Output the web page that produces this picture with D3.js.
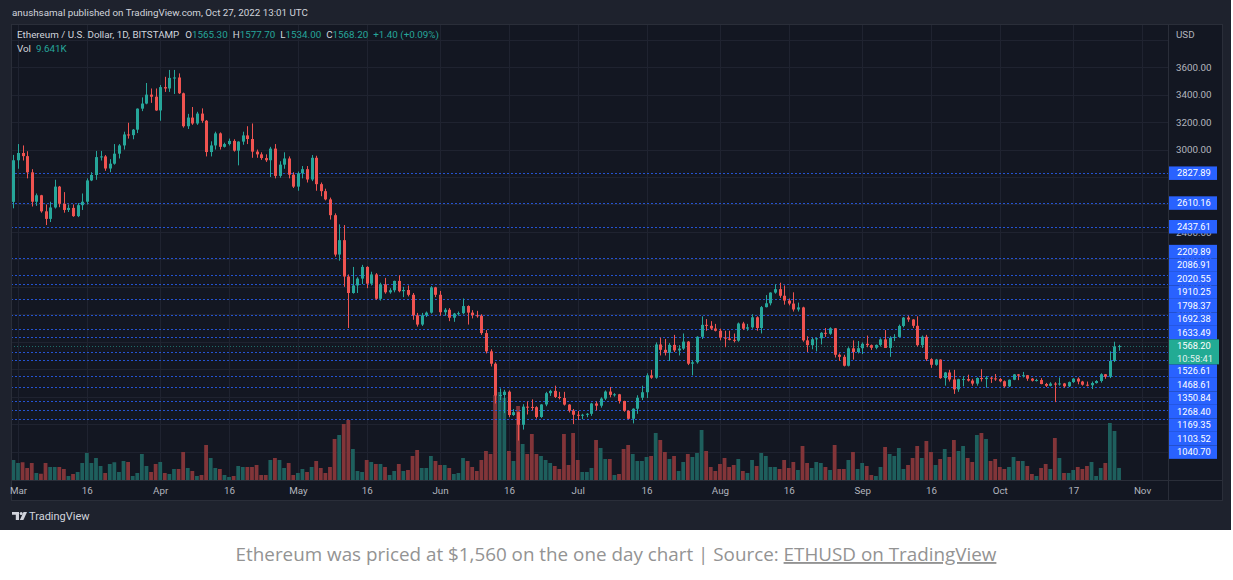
<!DOCTYPE html>
<html>
<head>
<meta charset="utf-8">
<script src="https://cdn.jsdelivr.net/npm/d3@7"></script>
<style>
  body { margin: 0; background: #fff; }
  svg { display: block; }
  text { font-family: Roboto, "Liberation Sans", sans-serif; }
</style>
</head>
<body>
<svg id="chart" width="1233" height="580"></svg>
<script>
// daily candles ETH/USD Bitstamp, Feb 28 -> Oct 27 2022, [open, high, low, close]
var firstDay = "2022-02-28";
var ohlc = [
  [2619,2961,2572,2922],
  // Mar
  [2922,3040,2860,2975],[2975,3030,2920,2952],[2952,2988,2790,2834],[2834,2857,2585,2620],[2620,2680,2590,2667],
  [2667,2670,2540,2550],[2550,2600,2450,2495],[2495,2620,2472,2578],[2578,2780,2570,2730],[2730,2735,2580,2605],
  [2605,2690,2540,2560],[2560,2600,2545,2575],[2575,2600,2510,2515],[2515,2610,2508,2595],[2595,2680,2560,2620],
  [2620,2790,2600,2775],[2775,2835,2770,2815],[2815,2990,2780,2945],[2945,2990,2920,2950],[2950,2960,2845,2862],
  [2862,2930,2835,2897],[2897,3040,2890,2970],[2970,3040,2935,3030],[3030,3130,3000,3110],[3110,3195,3080,3105],
  [3105,3150,3075,3145],[3145,3300,3120,3298],[3298,3380,3280,3335],[3335,3485,3330,3400],[3400,3445,3340,3385],
  [3385,3445,3282,3285],
  // Apr
  [3285,3470,3210,3455],[3455,3530,3420,3445],[3445,3580,3420,3522],[3522,3580,3405,3525],[3525,3555,3405,3410],
  [3410,3415,3160,3170],[3170,3260,3150,3233],[3233,3310,3180,3190],[3190,3275,3180,3262],[3262,3300,3195,3210],
  [3210,3215,2950,2982],[2982,3060,2950,3030],[3030,3130,3000,3118],[3118,3125,3000,3020],[3020,3050,3015,3040],
  [3040,3080,3030,3063],[3063,3075,2985,2992],[2992,3060,2885,3058],[3058,3130,3035,3103],[3103,3170,3040,3077],
  [3077,3190,2940,2985],[2985,3000,2940,2965],[2965,2980,2925,2938],[2938,2965,2910,2922],[2922,3020,2800,3007],
  [3007,3040,2790,2808],[2808,2915,2795,2890],[2890,2980,2860,2935],[2935,2950,2790,2817],[2817,2835,2720,2730],
  // May
  [2730,2840,2700,2827],[2827,2880,2790,2857],[2857,2880,2760,2782],[2782,2960,2770,2940],[2940,2955,2700,2748],
  [2748,2760,2660,2697],[2697,2715,2630,2637],[2637,2650,2490,2522],[2522,2535,2220,2235],[2235,2455,2190,2340],
  [2340,2450,2000,2075],[2075,2090,1700,1955],[1955,2145,1950,2010],[2010,2070,1955,2060],[2060,2160,2020,2145],
  [2145,2150,1990,2023],[2023,2110,2010,2090],[2090,2100,1905,1913],[1913,2030,1900,2018],[2018,2065,1950,1960],
  [1960,1990,1950,1975],[1975,2045,1960,2043],[2043,2085,1960,1968],[1968,2000,1925,1977],[1977,2010,1930,1942],
  [1942,1955,1760,1792],[1792,1810,1710,1725],[1725,1810,1715,1792],[1792,1820,1780,1812],[1812,2005,1805,1996],
  [1996,2000,1925,1942],
  // Jun
  [1942,1970,1790,1815],[1815,1845,1790,1833],[1833,1845,1750,1775],[1775,1810,1745,1805],[1805,1820,1790,1808],
  [1808,1915,1800,1860],[1860,1865,1725,1812],[1812,1830,1770,1793],[1793,1825,1775,1789],[1789,1800,1650,1663],
  [1663,1685,1515,1530],[1530,1545,1420,1440],[1440,1450,1150,1208],[1208,1260,1175,1212],[1212,1250,1080,1236],
  [1236,1245,1050,1066],[1066,1110,1060,1087],[1087,1090,880,995],[995,1145,960,1127],[1127,1165,1070,1125],
  [1125,1180,1100,1123],[1123,1130,1040,1052],[1052,1145,1045,1143],[1143,1235,1130,1225],[1225,1250,1205,1242],
  [1242,1280,1190,1198],[1198,1235,1180,1190],[1190,1235,1135,1142],[1142,1145,1085,1098],[1098,1110,1000,1068],
  // Jul
  [1068,1095,1030,1062],[1062,1075,1035,1068],[1068,1080,1050,1075],[1075,1155,1060,1150],[1150,1165,1100,1134],
  [1134,1195,1120,1186],[1186,1245,1175,1237],[1237,1270,1195,1213],[1213,1225,1200,1217],[1217,1220,1150,1168],
  [1168,1170,1090,1097],[1097,1100,1035,1039],[1039,1115,1005,1112],[1112,1210,1075,1192],[1192,1280,1175,1232],
  [1232,1370,1190,1355],[1355,1395,1330,1338],[1338,1595,1330,1580],[1580,1630,1500,1541],[1541,1620,1500,1520],
  [1520,1590,1460,1577],[1577,1650,1525,1537],[1537,1575,1500,1550],[1550,1660,1540,1601],[1601,1605,1430,1440],
  [1440,1465,1355,1450],[1450,1640,1440,1636],[1636,1785,1620,1723],[1723,1765,1680,1716],[1716,1750,1685,1696],
  [1696,1730,1675,1680],
  // Aug
  [1680,1695,1610,1630],[1630,1680,1560,1623],[1623,1680,1610,1614],[1614,1660,1595,1608],[1608,1740,1600,1733],
  [1733,1745,1685,1695],[1695,1730,1680,1705],[1705,1800,1695,1778],[1778,1785,1680,1700],[1700,1860,1660,1852],
  [1852,1940,1850,1880],[1880,1960,1865,1958],[1958,2020,1950,1983],[1983,2030,1920,1935],[1935,2010,1870,1900],
  [1900,1915,1865,1878],[1878,1960,1820,1835],[1835,1885,1820,1850],[1850,1855,1600,1610],[1610,1640,1525,1575],
  [1575,1630,1545,1618],[1618,1630,1530,1625],[1625,1670,1580,1665],[1665,1700,1635,1658],[1658,1705,1650,1698],
  [1698,1700,1485,1505],[1505,1515,1460,1490],[1490,1505,1420,1425],[1425,1560,1420,1552],[1552,1610,1470,1525],
  [1525,1605,1515,1553],
  // Sep
  [1553,1595,1510,1585],[1585,1645,1560,1575],[1575,1580,1540,1556],[1556,1580,1545,1577],[1577,1625,1565,1617],
  [1617,1685,1555,1555],[1555,1640,1490,1628],[1628,1655,1605,1635],[1635,1725,1630,1715],[1715,1780,1705,1776],
  [1776,1790,1745,1762],[1762,1765,1700,1716],[1716,1785,1565,1575],[1575,1645,1555,1636],[1636,1650,1460,1473],
  [1473,1480,1410,1432],[1432,1475,1425,1470],[1470,1472,1330,1335],[1335,1380,1280,1376],[1376,1395,1310,1325],
  [1325,1395,1220,1253],[1253,1330,1235,1327],[1327,1350,1275,1328],[1328,1360,1310,1317],[1317,1330,1280,1295],
  [1295,1340,1280,1336],[1336,1400,1310,1328],[1328,1350,1265,1338],[1338,1345,1300,1333],[1333,1365,1315,1328],
  // Oct
  [1328,1335,1305,1312],[1312,1318,1265,1275],[1275,1325,1270,1323],[1323,1365,1320,1362],[1362,1365,1320,1353],
  [1353,1380,1340,1356],[1356,1358,1315,1331],[1331,1335,1310,1316],[1316,1330,1310,1321],[1321,1335,1290,1292],
  [1292,1300,1270,1279],[1279,1305,1275,1295],[1295,1305,1160,1289],[1289,1340,1280,1296],[1296,1300,1265,1275],
  [1275,1310,1270,1306],[1306,1335,1300,1331],[1331,1340,1290,1310],[1310,1315,1280,1287],[1287,1310,1275,1283],
  [1283,1310,1255,1299],[1299,1320,1295,1314],[1314,1370,1302,1363],[1363,1365,1330,1345],[1345,1530,1335,1460],
  [1460,1600,1452,1565.3],[1565.3,1577.7,1534,1568.2]
];

// daily volume, thousands of ETH
var volumes = [
  16,
  13.6,14.2,9.6,13.6,5.6,5,13.6,10.4,10.4,10.4,8.8,3.2,4.8,6.4,13.6,21.6,13.6,17.6,11.2,5.6,12.8,14.2,6.4,15.2,14.4,3.2,5.6,20.8,11.2,6.4,12.8,
  14.4,5.6,4.8,8.8,8.8,22.4,9.6,7.2,3.2,4,28,17.6,9.6,8.8,4,2.4,3.2,11.2,10.4,10.4,10.4,12,4,4,16,17.6,16,9.6,13.6,4,
  5.6,8.8,6.4,10.4,15.2,9.6,5.6,10.4,32.8,36,44.8,48,24.8,7.2,6.4,16,14.4,12.8,12.8,10.4,4,7.2,12.8,7.2,8,19.2,24,9.6,9.6,19.2,15.2,
  12,12,9.6,4.8,5.6,17.6,15.2,10.4,7.2,16,23.2,20.8,68,70.4,65.6,23.2,15.2,59.2,28.8,20.8,36.8,20.8,19.2,16,13.6,11.2,8.8,36.8,12,37.6,
  16,6.4,6.4,9.6,32,25.6,16.8,16.8,4,4.8,24.8,28,20.8,15.2,15.2,18.4,19.2,37.6,32,22.4,16.8,19.2,7.2,14.4,20.8,18.4,21.6,40,23.2,10.4,7.2,
  12.8,17.6,10.4,12,16.8,7.2,5.6,16,11.2,21.6,19.2,10.4,10.4,8.8,16,9.6,14.4,8,27.2,13.6,9.6,14.4,13.6,10.4,8,28,8.8,8.8,16,22.4,8.8,
  13.6,11.2,4,3.2,10.4,26.4,20.8,19.2,25.6,8.8,12,17.6,27.2,17.6,31.2,22.4,12,16.8,24.8,18.4,32,23.2,27.2,17.6,14.4,36,37.6,32.8,15.2,16.8,
  10.4,8.8,10.4,18.4,15.2,15.2,11.2,4.8,3.2,9.6,12.8,8.8,33.6,17.6,5.6,5.6,8,10.4,8.8,11.2,14.4,3.2,9.6,13.6,45.6,39.2,9.641
];

// horizontal levels drawn on the chart
var levels = [2827.89, 2610.16, 2437.61, 2209.89, 2086.91, 2020.55, 1910.25, 1798.37,
              1692.38, 1633.49, 1526.61, 1468.61, 1350.84, 1268.40, 1169.35, 1103.52, 1040.70];

var priceTicks = [800, 1000, 1200, 1400, 1600, 1800, 2000, 2200, 2400, 2600, 2800, 3000, 3200, 3400, 3600];
var gridTicks = priceTicks.concat([3800]);
var tickDates = ["2022-03-01","2022-03-16","2022-04-01","2022-04-16","2022-05-01","2022-05-16","2022-06-01","2022-06-16",
                 "2022-07-01","2022-07-16","2022-08-01","2022-08-16","2022-09-01","2022-09-16","2022-10-01","2022-10-17","2022-11-01"];
var tickLabels = ["Mar","16","Apr","16","May","16","Jun","16","Jul","16","Aug","16","Sep","16","Oct","17","Nov"];

var lastPrice = 1568.20;
var countdown = "10:58:41";
var legendValues = ["1565.30", "1577.70", "1534.00", "1568.20"];
var legendChange = "+1.40 (+0.09%)";
var volLabel = "9.641K";

var up = "#26a69a", down = "#ef5350";
var volUp = "#1e5f5d", volDown = "#823539";
var textCol = "#b2b5be";
var fs = "9.8px";
var labelFs = "9.3px";

/* layout */
var pane = {left: 11, top: 24, right: 1168, bottom: 480, outerRight: 1222, outerBottom: 500};

var parse = d3.utcParse("%Y-%m-%d");
var start = parse(firstDay);
var days = d3.utcDay.range(start, d3.utcDay.offset(start, ohlc.length));

var xScale = d3.scaleUtc()
  .domain([parse("2022-03-01"), parse("2022-11-01")])
  .range([18, 1142]);

var yScale = d3.scaleLinear()
  .domain([600, 3600])
  .range([479, 67.2]);

var vScale = d3.scaleLinear()
  .domain([0, 100])
  .range([0, 125]);

var svg = d3.select("#chart");

// page + snapshot background
svg.append("rect").attr("width", 1231).attr("height", 530).attr("fill", "#1e222d");
svg.append("rect")
  .attr("x", pane.left + 0.5).attr("y", pane.top + 0.5)
  .attr("width", pane.outerRight - pane.left).attr("height", pane.outerBottom - pane.top)
  .attr("fill", "#131722").attr("stroke", "#2a2e39");

svg.append("defs").append("clipPath").attr("id", "plot")
  .append("rect")
  .attr("x", pane.left + 1).attr("y", pane.top + 1)
  .attr("width", pane.right - pane.left - 1).attr("height", pane.bottom - pane.top - 1);

var plot = svg.append("g").attr("clip-path", "url(#plot)");

/* grid */
plot.append("g").selectAll("line")
  .data(gridTicks).enter().append("line")
  .attr("x1", pane.left).attr("x2", pane.right)
  .attr("y1", d => Math.round(yScale(d)) + 0.5).attr("y2", d => Math.round(yScale(d)) + 0.5)
  .attr("stroke", "#1f2330");

plot.append("g").selectAll("line")
  .data(tickDates).enter().append("line")
  .attr("x1", d => Math.round(xScale(parse(d))) + 0.5).attr("x2", d => Math.round(xScale(parse(d))) + 0.5)
  .attr("y1", pane.top).attr("y2", pane.bottom)
  .attr("stroke", "#1f2330");

/* volume */
plot.append("g").selectAll("rect")
  .data(volumes).enter().append("rect")
  .attr("x", (d, i) => xScale(days[i]) - 1.9)
  .attr("width", 3.8)
  .attr("y", d => pane.bottom - vScale(d))
  .attr("height", d => vScale(d))
  .attr("fill", (d, i) => ohlc[i][3] >= ohlc[i][0] ? volUp : volDown);

/* horizontal levels */
plot.append("g").selectAll("line")
  .data(levels).enter().append("line")
  .attr("x1", pane.left).attr("x2", pane.right)
  .attr("y1", d => Math.round(yScale(d)) + 0.5).attr("y2", d => Math.round(yScale(d)) + 0.5)
  .attr("stroke", "#2962ff").attr("stroke-dasharray", "2,2").attr("opacity", 0.8);

// last price line
plot.append("line")
  .attr("x1", pane.left).attr("x2", pane.right)
  .attr("y1", Math.round(yScale(lastPrice)) + 0.5).attr("y2", Math.round(yScale(lastPrice)) + 0.5)
  .attr("stroke", up).attr("stroke-dasharray", "1,2").attr("opacity", 0.6);

/* candles */
var candles = plot.append("g").selectAll("g")
  .data(ohlc).enter().append("g")
  .attr("fill", d => d[3] >= d[0] ? up : down)
  .attr("stroke", d => d[3] >= d[0] ? up : down);

candles.append("line")
  .attr("x1", (d, i) => Math.round(xScale(days[i])) + 0.5)
  .attr("x2", (d, i) => Math.round(xScale(days[i])) + 0.5)
  .attr("y1", d => yScale(d[1]))
  .attr("y2", d => yScale(d[2]));

candles.append("rect")
  .attr("stroke", "none")
  .attr("x", (d, i) => Math.round(xScale(days[i])) - 1)
  .attr("width", 3)
  .attr("y", d => yScale(Math.max(d[0], d[3])))
  .attr("height", d => Math.max(1, Math.abs(yScale(d[0]) - yScale(d[3]))));

/* axes frame */
svg.append("line").attr("x1", pane.right + 0.5).attr("x2", pane.right + 0.5)
  .attr("y1", pane.top).attr("y2", pane.outerBottom).attr("stroke", "#2a2e39");
svg.append("line").attr("x1", pane.left).attr("x2", pane.outerRight)
  .attr("y1", pane.bottom + 0.5).attr("y2", pane.bottom + 0.5).attr("stroke", "#2a2e39");

/* price labels on the axis, stacked around the live price label */
var labelH = 13.5;
var cy = yScale(lastPrice);
var curTop = cy - labelH / 2;
var curBot = curTop + 25;
var labelPos = [];
var prevTop = curTop;
levels.filter(v => v > lastPrice).sort(d3.ascending).forEach(function(v) {
  var y = Math.min(yScale(v), prevTop - labelH / 2);
  labelPos.push({v: v, y: y});
  prevTop = y - labelH / 2;
});
var prevBot = curBot;
levels.filter(v => v < lastPrice).sort(d3.descending).forEach(function(v) {
  var y = Math.max(yScale(v), prevBot + labelH / 2);
  labelPos.push({v: v, y: y});
  prevBot = y + labelH / 2;
});

// axis ticks that sit fully under a price label are not visible
function covered(t) {
  var ty = yScale(t);
  if (ty > curTop - 4 && ty < curBot + 4) return true;
  return labelPos.some(l => Math.abs(l.y - ty) < 4.5);
}

/* price axis */
var yAxis = d3.axisRight(yScale)
  .tickValues(priceTicks.filter(t => !covered(t)))
  .tickFormat(d3.format(".2f"))
  .tickSize(0)
  .tickPadding(8);

var yg = svg.append("g")
  .attr("transform", `translate(${pane.right}, 0)`)
  .call(yAxis);
yg.select(".domain").remove();
yg.selectAll("text").attr("fill", textCol).style("font-size", fs).attr("font-family", null);

svg.append("text")
  .attr("x", pane.right + 8).attr("y", 38)
  .attr("fill", textCol).style("font-size", fs)
  .text("USD");

/* time axis */
var xAxis = d3.axisBottom(xScale)
  .tickValues(tickDates.map(parse))
  .tickFormat((d, i) => tickLabels[i])
  .tickSize(0)
  .tickPadding(7);

var xg = svg.append("g")
  .attr("transform", `translate(0, ${pane.bottom})`)
  .call(xAxis);
xg.select(".domain").remove();
xg.selectAll("text").attr("fill", textCol).style("font-size", fs).attr("font-family", null);

var lab = svg.append("g").selectAll("g")
  .data(labelPos).enter().append("g");
lab.append("rect")
  .attr("x", pane.right + 1).attr("width", 48)
  .attr("y", d => d.y - labelH / 2).attr("height", labelH)
  .attr("fill", "#2962ff");
lab.append("text")
  .attr("x", pane.right + 9).attr("y", d => d.y).attr("dy", "0.35em")
  .attr("fill", "#fff").style("font-size", labelFs)
  .text(d => d.v.toFixed(2));

svg.append("rect")
  .attr("x", pane.right + 1).attr("width", 50)
  .attr("y", curTop).attr("height", curBot - curTop)
  .attr("fill", "#22ab94");
svg.append("text")
  .attr("x", pane.right + 9).attr("y", cy).attr("dy", "0.35em")
  .attr("fill", "#fff").style("font-size", labelFs)
  .text(lastPrice.toFixed(2));
svg.append("text")
  .attr("x", pane.right + 9).attr("y", cy + 12.5).attr("dy", "0.35em")
  .attr("fill", "#e0f2ef").style("font-size", labelFs)
  .text(countdown);

/* header */
svg.append("text")
  .attr("x", 12).attr("y", 16)
  .attr("fill", "#d1d4dc").style("font-size", fs)
  .text("anushsamal published on TradingView.com, Oct 27, 2022 13:01 UTC");

var legend = svg.append("text")
  .attr("x", 17).attr("y", 38)
  .attr("fill", "#d1d4dc").style("font-size", fs);
legend.append("tspan").text("Ethereum / U.S. Dollar, 1D, BITSTAMP");
["O", "H", "L", "C"].forEach(function(k, i) {
  legend.append("tspan").attr("dx", i === 0 ? 6 : 5).text(k);
  legend.append("tspan").attr("fill", up).text(legendValues[i]);
});
legend.append("tspan").attr("dx", 5).attr("fill", up).text(legendChange);

var vol = svg.append("text")
  .attr("x", 17).attr("y", 52)
  .attr("fill", "#d1d4dc").style("font-size", fs);
vol.append("tspan").text("Vol");
vol.append("tspan").attr("dx", 5).attr("fill", up).text(volLabel);

/* TradingView logo */
var logo = svg.append("g").attr("fill", "#d1d4dc");
logo.append("path").attr("d", "M12,512h7v8h-3.2v-5.2H12z");
logo.append("circle").attr("cx", 21.2).attr("cy", 513.6).attr("r", 1.5);
logo.append("path").attr("d", "M23.5,512h3.5l-3.6,8h-3.5z");
svg.append("text")
  .attr("x", 29).attr("y", 520)
  .attr("fill", "#d1d4dc").style("font-size", "11px")
  .text("TradingView");

/* caption */
var cap = svg.append("text")
  .attr("x", 616).attr("y", 561)
  .attr("text-anchor", "middle")
  .attr("fill", "#939393")
  .style("font-family", "'Open Sans', sans-serif")
  .style("font-size", "17px");
cap.append("tspan").text("Ethereum was priced at $1,560 on the one day chart | Source: ");
cap.append("tspan").style("text-decoration", "underline").text("ETHUSD on TradingView");
var capW = cap.node().getComputedTextLength();
cap.style("font-size", (17 * 761 / capW).toFixed(2) + "px");
</script>
</body>
</html>
